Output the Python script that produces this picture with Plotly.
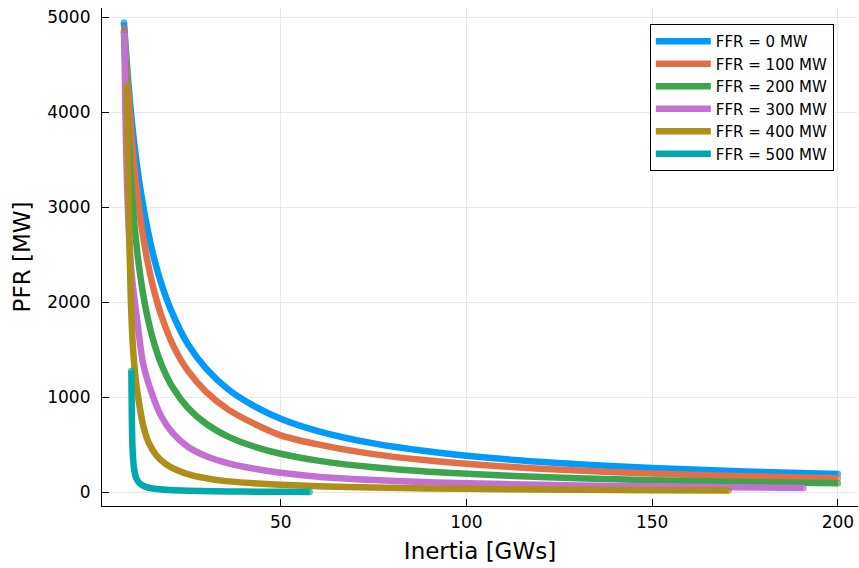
import plotly.graph_objects as go

# Values (Inertia [GWs], PFR [MW])
names = ["FFR = 0 MW", "FFR = 100 MW", "FFR = 200 MW", "FFR = 300 MW", "FFR = 400 MW", "FFR = 500 MW"]
colors = ["#009AFA", "#E26F46", "#3DA44D", "#C271D2", "#AC8E18", "#00A9AE"]

h_ffr0 = [7.8, 8.5, 9.5, 10.5, 12, 14, 16, 18, 21, 25, 30, 36, 43, 50, 60, 75, 90, 110, 130, 150, 175, 200]
p_ffr0 = [4945, 4560, 4080, 3700, 3250, 2800, 2450, 2180, 1870, 1560, 1300, 1080, 905, 775, 645, 515, 430, 350, 296, 256, 220, 192]

h_ffr100 = [7.9, 8.5, 9.5, 10.5, 12, 14, 16, 18, 21, 25, 30, 36, 43, 50, 60, 75, 90, 110, 130, 150, 175, 200]
p_ffr100 = [4888, 4450, 3930, 3470, 2950, 2460, 2110, 1845, 1550, 1280, 1055, 868, 720, 600, 505, 402, 334, 272, 229, 198, 170, 147]

h_ffr200 = [7.8, 8.5, 9.5, 10.5, 12, 14, 16, 18, 21, 25, 30, 36, 43, 50, 60, 75, 90, 110, 130, 150, 175, 200]
p_ffr200 = [4850, 4155, 3400, 2877, 2337, 1870, 1558, 1336, 1100, 890, 719, 584, 480, 406, 334, 263, 217, 176, 148, 128, 109, 95]

h_ffr300 = [7.9, 8.2, 8.6, 9.2, 10, 11.4, 13, 15.7, 18, 21, 25, 30, 36, 43, 50, 60, 75, 90, 110, 130, 150, 170, 190.8]
p_ffr300 = [4835, 4000, 3300, 2700, 2250, 1800, 1350, 1000, 790, 620, 480, 380, 305, 248, 205, 165, 130, 107, 87, 73, 63, 54, 46]

h_ffr400 = [8.6, 8.8, 9.1, 9.6, 10.2, 11, 11.8, 13, 14.5, 16.5, 19, 22, 26, 31, 36, 42, 50, 60, 75, 90, 110, 130, 150, 170.6]
p_ffr400 = [4290, 3700, 3000, 2100, 1550, 1180, 960, 700, 520, 390, 300, 235, 180, 140, 115, 97, 80, 64, 50, 41, 33, 27, 22, 18]

h_ffr500 = [9.8, 9.9, 10.0, 10.2, 10.5, 11, 12, 13.5, 16, 20, 25, 32, 40, 50, 57.8]
p_ffr500 = [1280, 900, 620, 400, 260, 160, 95, 60, 38, 25, 17, 11, 8, 5, 4]

xs = [h_ffr0, h_ffr100, h_ffr200, h_ffr300, h_ffr400, h_ffr500]
ys = [p_ffr0, p_ffr100, p_ffr200, p_ffr300, p_ffr400, p_ffr500]

x_ticks = [50, 100, 150, 200]
y_ticks = [0, 1000, 2000, 3000, 4000, 5000]

LW = 6.5
fig = go.Figure()
for name, col, x, y in zip(names, colors, xs, ys):
    # round end caps like the reference: a dot only at the first and last point
    caps = [LW] + [0] * (len(x) - 2) + [LW]
    fig.add_trace(go.Scatter(x=x, y=y, mode="lines+markers", name=name,
                             line=dict(color=col, width=LW, shape="spline", smoothing=0.7),
                             marker=dict(color=col, size=caps, line=dict(width=0))))

font_family = "DejaVu Sans"
fig.update_layout(
    width=859, height=568,
    margin=dict(l=102, r=1, t=8, b=62),
    paper_bgcolor="white", plot_bgcolor="white",
    font=dict(family=font_family, size=17, color="black"),
    showlegend=True,
    legend=dict(x=0.968, y=0.968, xanchor="right", yanchor="top",
                bgcolor="white", bordercolor="black", borderwidth=1,
                font=dict(family=font_family, size=15, color="black"),
                tracegroupgap=0, itemwidth=55),
)
fig.update_xaxes(
    range=[1.9, 205.4], tickvals=x_ticks, ticktext=[str(v) for v in x_ticks],
    showgrid=True, gridcolor="#e8e8e8", gridwidth=1, zeroline=False,
    showline=True, linecolor="black", linewidth=1.2,
    ticks="inside", ticklen=7, tickcolor="black",
    tickfont=dict(size=17, family=font_family, color="black"),
    title=dict(text="Inertia [GWs]", font=dict(size=23, family=font_family, color="black"), standoff=12),
)
fig.update_yaxes(
    range=[-144, 5098], tickvals=y_ticks, ticktext=[str(v) for v in y_ticks],
    showgrid=True, gridcolor="#e8e8e8", gridwidth=1, zeroline=False,
    showline=True, linecolor="black", linewidth=1.2,
    ticks="inside", ticklen=7, tickcolor="black", ticklabelstandoff=7,
    tickfont=dict(size=17, family=font_family, color="black"),
    title=dict(text="PFR [MW]", font=dict(size=23, family=font_family, color="black"), standoff=10),
)

fig.write_html("out.html")
